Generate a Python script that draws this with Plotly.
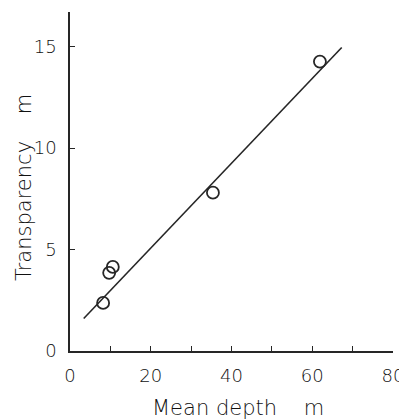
import plotly.graph_objects as go

# Data
mean_depth = [8.2, 9.7, 10.6, 35.4, 61.9]
transparency = [2.37, 3.85, 4.14, 7.8, 14.26]

# Regression line end points
line_x = [3.4, 67.3]
line_y = [1.6, 14.95]

x_ticks = [0, 20, 40, 60, 80]
y_ticks = [0, 5, 10, 15]

x_title = "Mean depth    m"
y_title = "Transparency    m"

ink = "#262626"
txt = "#111111"
fnt = "DejaVu Sans"

# page body has an 8px margin, so the figure is shrunk by that amount
W, H = 399, 412
L, R, T, B = 62, 14, 4, 69
pw, ph = W - L - R, H - T - B

fig = go.Figure()
fig.add_trace(go.Scatter(x=line_x, y=line_y, mode="lines",
                         line=dict(color=ink, width=1.6), showlegend=False,
                         cliponaxis=False))
fig.add_trace(go.Scatter(x=mean_depth, y=transparency, mode="markers",
                         marker=dict(symbol="circle-open", size=12,
                                     color=ink, line=dict(width=1.8)),
                         showlegend=False, cliponaxis=False))

fig.update_layout(
    width=W, height=H,
    margin=dict(l=L, r=R, t=T, b=B),
    paper_bgcolor="white", plot_bgcolor="white",
    font=dict(family=fnt, size=18, color=txt, weight=300),
)
fig.update_xaxes(range=[0, 80], tickvals=x_ticks, ticks="inside", ticklen=5,
                 tickwidth=1.2, tickcolor=ink, automargin=False,
                 minor=dict(dtick=10, ticks="inside", ticklen=5, tickwidth=1.2, tickcolor=ink),
                 showline=True, linecolor=ink, linewidth=1.6, showgrid=False, zeroline=False,
                 ticklabelstandoff=8,
                 tickfont=dict(size=18, weight=300, color=txt))
fig.update_yaxes(range=[0, 16.7], tickvals=y_ticks, ticks="inside", ticklen=5,
                 tickwidth=1.2, tickcolor=ink, automargin=False,
                 showline=True, linecolor=ink, linewidth=1.6, showgrid=False, zeroline=False,
                 ticklabelstandoff=8,
                 tickfont=dict(size=18, weight=300, color=txt))

fig.add_annotation(text=x_title, xref="paper", yref="paper",
                   x=(230 - L) / pw, y=0, yshift=-57,
                   xanchor="center", yanchor="middle", showarrow=False,
                   font=dict(size=21, weight=300, color=txt))
fig.add_annotation(text=y_title, xref="paper", yref="paper",
                   x=(16 - L) / pw, y=1 - (180 - T) / ph, textangle=-90,
                   xanchor="center", yanchor="middle", showarrow=False,
                   font=dict(size=21, weight=300, color=txt))

fig.write_html("out.html")
